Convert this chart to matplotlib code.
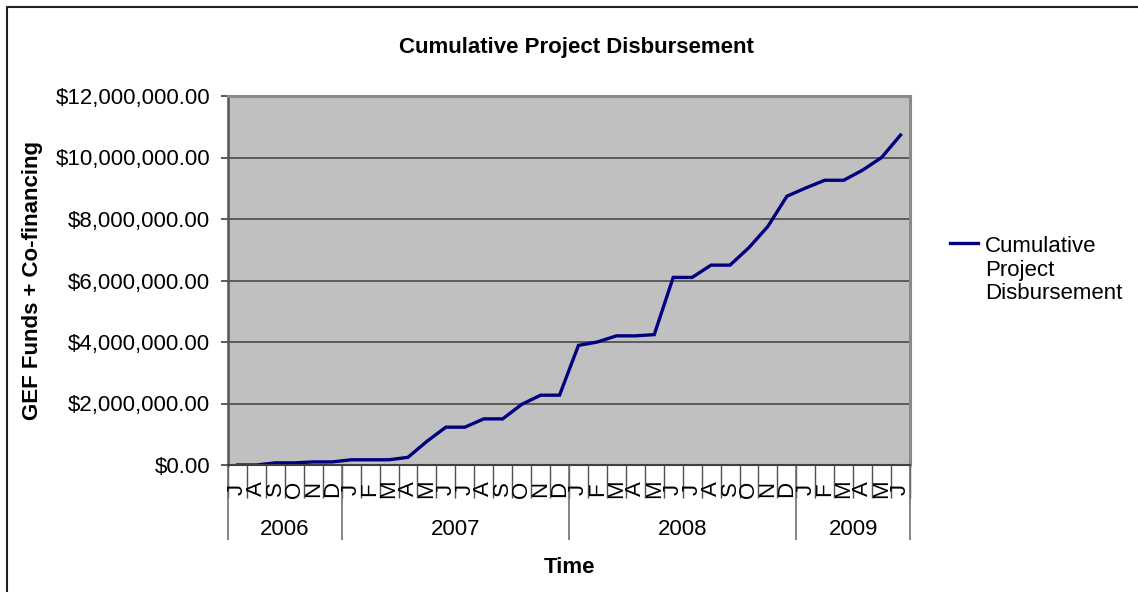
import matplotlib
matplotlib.use("Agg")
import matplotlib.pyplot as plt
import numpy as np
from matplotlib.lines import Line2D
from matplotlib.ticker import FuncFormatter, MultipleLocator

# Data: monthly cumulative disbursement, July 2006 - June 2009 (USD millions)
months = ["J", "A", "S", "O", "N", "D",
          "J", "F", "M", "A", "M", "J", "J", "A", "S", "O", "N", "D",
          "J", "F", "M", "A", "M", "J", "J", "A", "S", "O", "N", "D",
          "J", "F", "M", "A", "M", "J"]
years = ["2006", "2007", "2008", "2009"]
months_per_year = [6, 12, 12, 6]
disbursed_musd = [0.0, 0.0, 0.07, 0.07, 0.10, 0.10,
                  0.17, 0.17, 0.17, 0.25, 0.77, 1.23, 1.23, 1.50, 1.50, 1.97, 2.27, 2.27,
                  3.89, 4.00, 4.20, 4.20, 4.24, 6.10, 6.10, 6.50, 6.50, 7.07, 7.76, 8.74,
                  9.01, 9.26, 9.26, 9.59, 10.00, 10.73]
series_name = "Cumulative Project Disbursement"

W, H = 1138, 592
plt.rcParams['font.family'] = ['Liberation Sans', 'DejaVu Sans']
fs = 16

fig = plt.figure(figsize=(W / 100, H / 100), dpi=100)

# plot area in pixel coordinates
left, right, top, bottom = 228, 910, 96, 465
ax = fig.add_axes([left / W, 1 - bottom / H, (right - left) / W, (bottom - top) / H])
ax.set_facecolor("#c0c0c0")

x = np.arange(len(months))
y = np.array(disbursed_musd) * 1e6
ax.plot(x, y, color="#000080", lw=2.4, solid_joinstyle="miter")

ax.set_xlim(-0.5, len(months) - 0.5)
ax.set_ylim(0, 12e6)
ax.yaxis.set_major_locator(MultipleLocator(2e6))
ax.yaxis.set_major_formatter(FuncFormatter(lambda v, p: "${:,.2f}".format(v)))
ax.tick_params(axis="y", length=5, width=1.2, color="#404040", pad=8, labelsize=fs)
ax.grid(axis="y", color="#4a4a4a", lw=1.2)
ax.set_axisbelow(True)
ax.set_xticks([])

for s in ["top", "right"]:
    ax.spines[s].set_color("#8a8a8a")
    ax.spines[s].set_linewidth(2.2)
ax.spines["left"].set_color("#555555")
ax.spines["left"].set_linewidth(1.8)
ax.spines["bottom"].set_color("#404040")
ax.spines["bottom"].set_linewidth(1.5)

# category axis: month separators, month letters, year separators, years
trans = ax.get_xaxis_transform()
ph = bottom - top
bounds = np.arange(len(months) + 1) - 0.5
ax.vlines(bounds, 0, -(498 - bottom) / ph, transform=trans, color="#505050",
          lw=1.0, clip_on=False)
year_bounds = np.concatenate([[0], np.cumsum(months_per_year)]) - 0.5
ax.vlines(year_bounds, 0, -(540 - bottom) / ph, transform=trans, color="#707070",
          lw=1.2, clip_on=False)
for i, m in enumerate(months):
    ax.text(i, -(489 - bottom) / ph, m, rotation=90, ha="center", va="center",
            fontsize=fs, transform=trans)
for k, yr in enumerate(years):
    xc = (year_bounds[k] + year_bounds[k + 1]) / 2
    ax.text(xc, -(535 - bottom) / ph, yr, ha="center", va="baseline",
            fontsize=fs, transform=trans)

# titles
fig.text(576 / W, 1 - 53 / H, series_name, ha="center", va="baseline",
         fontsize=fs, fontweight="bold")
fig.text(569 / W, 1 - 573 / H, "Time", ha="center", va="baseline",
         fontsize=fs, fontweight="bold")
fig.text(33 / W, 1 - 281 / H, "GEF Funds + Co-financing", rotation=90,
         ha="center", va="center", fontsize=fs, fontweight="bold")

# legend
fig.add_artist(Line2D([950 / W, 978 / W], [1 - 243 / H] * 2, color="#000080", lw=2.4))
fig.text(985 / W, 1 - 299 / H, "Cumulative\nProject\nDisbursement", ha="left",
         va="baseline", fontsize=fs, linespacing=1.15)

# outer chart border (only top and left visible)
fig.add_artist(Line2D([7 / W, 7 / W, 1.0], [0.0, 1 - 7 / H, 1 - 7 / H],
                      color="#202020", lw=1.5))

fig.savefig("out.png", dpi=100)
